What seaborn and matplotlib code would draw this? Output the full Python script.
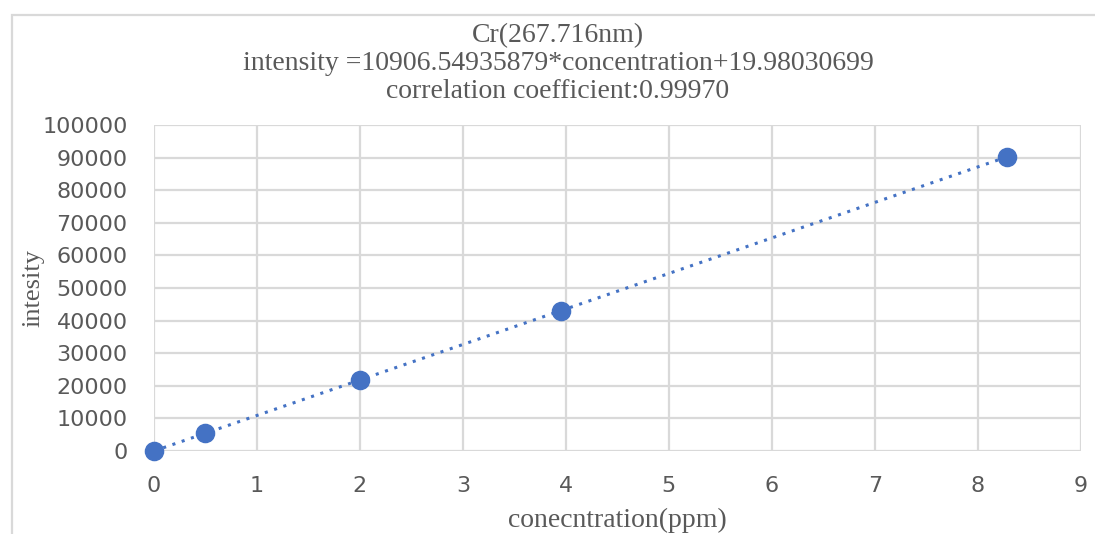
import numpy as np
import pandas as pd
import seaborn as sns
import matplotlib.pyplot as plt
from matplotlib.patches import Rectangle

## data
concentration = [0.0, 0.5, 2.0, 3.95, 8.28]
intensity = [0, 5500, 21800, 42950, 90200]
x_ticks = list(range(0, 10))
y_ticks = list(range(0, 100001, 10000))

df = pd.DataFrame({"concentration": concentration, "intensity": intensity})

sns.set_style("white")
plt.rcParams['font.family'] = ['DejaVu Sans']

blue = "#4472C4"
grid_c = "#D9D9D9"
text_c = "#595959"
serif = ["Liberation Serif", "DejaVu Serif"]

fig = plt.figure(figsize=(10.95, 5.34), dpi=100)
ax = fig.add_axes([0.1406, 0.1554, 0.8464, 0.6106])

sns.regplot(data=df, x="concentration", y="intensity", ax=ax, ci=None, truncate=True,
            scatter=False, line_kws=dict(color=blue, linestyle=(0, (1, 2.2)), linewidth=2.2))
sns.scatterplot(data=df, x="concentration", y="intensity", ax=ax, color=blue,
                s=170, edgecolor=blue, zorder=5, clip_on=False)

ax.set_xlim(0, 9)
ax.set_ylim(0, 100000)
ax.set_xticks(x_ticks)
ax.set_yticks(y_ticks)
ax.grid(True, color=grid_c, linewidth=1.6)
ax.set_axisbelow(True)
for s in ax.spines.values():
    s.set_visible(False)
ax.tick_params(length=0, labelsize=16, colors=text_c)
ax.tick_params(axis="y", pad=19)
ax.tick_params(axis="x", pad=18)

ax.set_xlabel("conecntration(ppm)", family=serif, fontsize=20, color=text_c)
ax.xaxis.set_label_coords(0.5, -0.175)
ax.set_ylabel("intesity", family=serif, fontsize=19, color=text_c)
ax.yaxis.set_label_coords(-0.118, 0.5)

tx = 558 / 1095
fig.text(tx, 1 - 36 / 534, "Cr(267.716nm)", family=serif, fontsize=20, color=text_c,
         ha="center", va="center")
fig.text(tx, 1 - 64 / 534, "intensity =10906.54935879*concentration+19.98030699", family=serif,
         fontsize=20, color=text_c, ha="center", va="center")
fig.text(tx, 1 - 92 / 534, "correlation coefficient:0.99970", family=serif, fontsize=20,
         color=text_c, ha="center", va="center")

# chart area border
fig.patches.append(Rectangle((12 / 1095, -0.01), 1.0, 1 - 15 / 534 + 0.01,
                             transform=fig.transFigure, fill=False,
                             edgecolor=grid_c, linewidth=1.6))

fig.savefig("out.png", dpi=100)
